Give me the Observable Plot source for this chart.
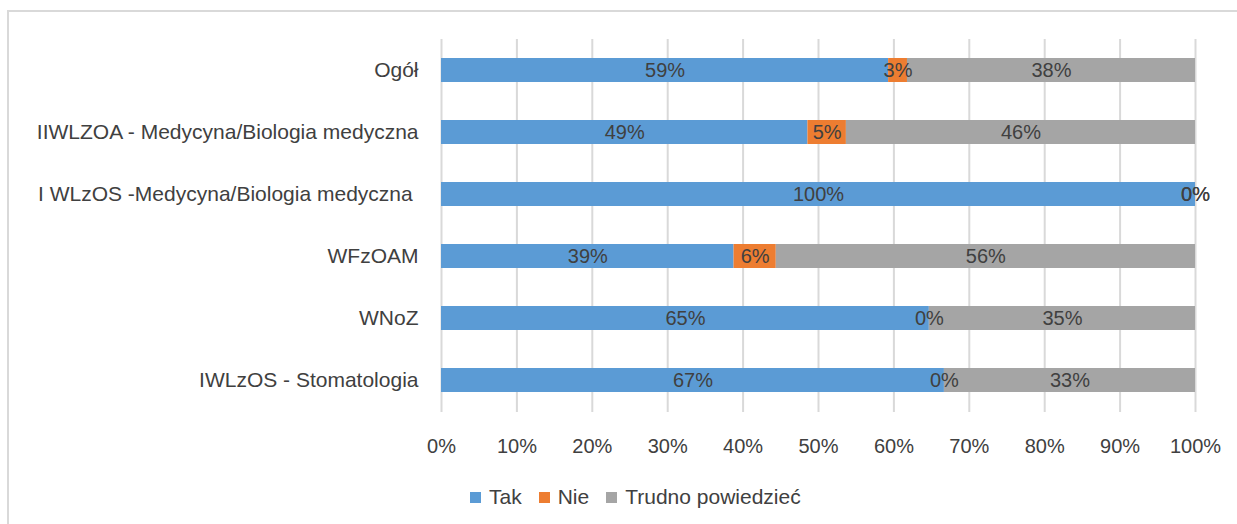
<!DOCTYPE html>
<html><head><meta charset="utf-8">
<script src="https://cdn.jsdelivr.net/npm/d3@7"></script>
<script src="https://cdn.jsdelivr.net/npm/@observablehq/plot@0.6"></script>
<style>
html,body{margin:0;padding:0;background:#fff;}
body{width:1237px;height:524px;position:relative;overflow:hidden;font-family:"Liberation Sans",Arial,sans-serif;}
#frame{position:absolute;left:7px;top:10px;width:1240px;height:530px;border-top:2px solid #d9d9d9;border-left:2px solid #d9d9d9;z-index:2;pointer-events:none;}
#chart{position:absolute;left:0;top:0;z-index:1;}
#legend{position:absolute;left:470px;top:485px;display:flex;align-items:center;gap:17px;font-size:21px;color:#404040;z-index:3;}
.item{display:flex;align-items:center;gap:8px;}
.sw{width:11px;height:11px;display:inline-block;}
</style>
</head><body>
<div id="chart"></div>
<div id="frame"></div>
<div id="legend"></div>
<script>
const categories = ["Ogół", "IIWLZOA - Medycyna/Biologia medyczna", "I WLzOS -Medycyna/Biologia medyczna\u00a0", "WFzOAM", "WNoZ", "IWLzOS - Stomatologia"];
const series = ["Tak", "Nie", "Trudno powiedzieć"];
const tak = [59.3, 48.6, 100, 38.8, 64.7, 66.7];
const nie = [2.5, 5.1, 0, 5.6, 0, 0];
const trudno = [38.2, 46.3, 0, 55.6, 35.3, 33.3];
const xTicks = [0, 10, 20, 30, 40, 50, 60, 70, 80, 90, 100];
const colors = ["#5B9BD5", "#ED7D31", "#A5A5A5"];

const valuesBySeries = [tak, nie, trudno];
const data = [];
categories.forEach((c, i) => {
  series.forEach((s, j) => data.push({category: c, series: s, value: valuesBySeries[j][i]}));
});

const chart = Plot.plot({
  width: 1237,
  height: 470,
  marginLeft: 441,
  marginRight: 42,
  marginTop: 39,
  marginBottom: 58,
  style: {fontFamily: '"Liberation Sans", Arial, sans-serif', color: "#404040", background: "transparent"},
  x: {domain: [0, 100]},
  y: {domain: categories, paddingInner: 0.61, paddingOuter: 0.305},
  color: {domain: series, range: colors},
  marks: [
    Plot.ruleX(xTicks, {stroke: "#d9d9d9", strokeWidth: 2}),
    Plot.barX(data, Plot.stackX({x: "value", y: "category", fill: "series"})),
    Plot.text(data, Plot.stackX({x: "value", y: "category", z: "series", text: d => Math.round(d.value) + "%", fill: "#404040", fontSize: 20})),
    Plot.axisX(xTicks, {anchor: "bottom", tickSize: 0, tickPadding: 26, tickFormat: d => d + "%", fontSize: 20, label: null}),
    Plot.axisY({anchor: "left", tickSize: 0, tickPadding: 23, fontSize: 21, label: null})
  ]
});
document.getElementById("chart").appendChild(chart);

const legend = document.getElementById("legend");
series.forEach((s, j) => {
  const it = document.createElement("div");
  it.className = "item";
  const sw = document.createElement("span");
  sw.className = "sw";
  sw.style.background = colors[j];
  const t = document.createElement("span");
  t.textContent = s;
  it.appendChild(sw); it.appendChild(t);
  legend.appendChild(it);
});
</script>
</body></html>
